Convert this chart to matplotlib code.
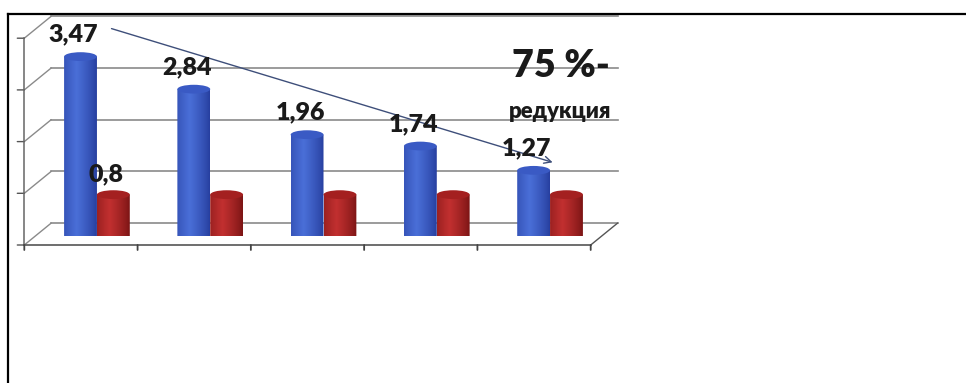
import numpy as np
import matplotlib
matplotlib.use("Agg")
import matplotlib.pyplot as plt
from matplotlib.lines import Line2D
from matplotlib.patches import ConnectionPatch, Ellipse, PathPatch
from matplotlib.path import Path
from matplotlib.transforms import offset_copy

plt.rcParams["font.family"] = ["Lato", "DejaVu Sans"]

categories = [0, 1, 2, 3, 4]
blue_values = [3.47, 2.84, 1.96, 1.74, 1.27]
red_values = [0.8, 0.8, 0.8, 0.8, 0.8]
blue_labels = ["3,47", "2,84", "1,96", "1,74", "1,27"]
red_labels = ["0,8", "", "", "", ""]
y_ticks = [0, 1, 2, 3, 4]

BAR_W = 0.29
CAP = 0.17
GRID = "#8a8a8a"

fig = plt.figure(figsize=(9.66, 3.83), dpi=100)
fig.patch.set_facecolor("white")

# page frame: top and left rules
fig.add_artist(Line2D([8 / 966, 1.0], [1 - 14 / 383, 1 - 14 / 383], color="black", lw=1.6))
fig.add_artist(Line2D([8 / 966, 8 / 966], [0, 1 - 14 / 383], color="black", lw=1.6))

ax = fig.add_axes([40.3 / 966, (383 - 236) / 383, 566.4 / 966, 206.8 / 383])
ax.set_axis_off()

# depth planes of the pseudo-3D box
back = offset_copy(ax.transData, fig=fig, x=11, y=13, units="dots")
front = offset_copy(ax.transData, fig=fig, x=-16, y=-9, units="dots")
front_tick_x = offset_copy(front, fig=fig, x=-7, y=0, units="dots")
front_tick_y = offset_copy(front, fig=fig, x=0, y=-5, units="dots")

x_lo, x_hi = categories[0] - 0.5, categories[-1] + 0.5

for v in y_ticks:
    ax.plot([x_lo, x_hi], [v, v], transform=back, color=GRID, lw=1.2,
            clip_on=False, zorder=1)
    ax.add_artist(ConnectionPatch((x_lo, v), (x_lo, v), coordsA=front, coordsB=back,
                                  color=GRID, lw=1.0, zorder=1))
    ax.add_artist(ConnectionPatch((x_lo, v), (x_lo, v), coordsA=front, coordsB=front_tick_x,
                                  color="#555555", lw=1.0, zorder=1))

ax.plot([x_lo, x_lo], [y_ticks[0], y_ticks[-1]], transform=front, color="#666666",
        lw=1.1, clip_on=False, zorder=1)
ax.plot([x_lo, x_hi], [0, 0], transform=front, color="#555555", lw=1.2,
        clip_on=False, zorder=1)
ax.add_artist(ConnectionPatch((x_hi, 0), (x_hi, 0), coordsA=front, coordsB=back,
                              color="#555555", lw=1.0, zorder=1))
for xb in np.arange(x_lo, x_hi + 0.01, 1.0):
    ax.add_artist(ConnectionPatch((xb, 0), (xb, 0), coordsA=front, coordsB=front_tick_y,
                                  color="#444444", lw=1.3, zorder=1))


def shade(c_dark, c_light, n=64):
    t = np.linspace(0, 1, n)
    k = np.clip(1 - np.abs(t - 0.38) / 0.62, 0, 1) ** 0.8
    d = np.array(matplotlib.colors.to_rgb(c_dark))
    l = np.array(matplotlib.colors.to_rgb(c_light))
    return (d[None, :] * (1 - k[:, None]) + l[None, :] * k[:, None])[None, :, :]


def cylinder(xc, h, dark, light, cap):
    x0, x1 = xc - BAR_W / 2, xc + BAR_W / 2
    t = np.linspace(np.pi, 2 * np.pi, 40)
    verts = [(x0, h)] + list(zip(xc + BAR_W / 2 * np.cos(t), CAP / 2 * np.sin(t))) + [(x1, h), (x0, h)]
    body = PathPatch(Path(verts, closed=True), facecolor="none", edgecolor="none")
    ax.add_patch(body)
    im = ax.imshow(shade(dark, light), extent=[x0, x1, -CAP / 2, h], aspect="auto",
                   interpolation="bicubic", zorder=3)
    im.set_clip_path(body)
    ax.add_patch(Ellipse((xc, h), BAR_W, CAP, facecolor=cap, edgecolor="none",
                         zorder=4))


for i, c in enumerate(categories):
    cylinder(c - BAR_W / 2, blue_values[i], "#263e9e", "#4a6fd8", "#3a5ac4")
    cylinder(c + BAR_W / 2, red_values[i], "#7a1414", "#c23030", "#a42020")

for i, c in enumerate(categories):
    ax.annotate(blue_labels[i], xy=(c - BAR_W / 2, blue_values[i]), xytext=(-7, 22),
                textcoords="offset pixels", ha="center", va="center",
                fontsize=18, fontweight="heavy", color="#1a1a1a", zorder=6)
    if red_labels[i]:
        ax.annotate(red_labels[i], xy=(c + BAR_W / 2, red_values[i]), xytext=(-7, 20),
                    textcoords="offset pixels", ha="center", va="center",
                    fontsize=18, fontweight="heavy", color="#1a1a1a", zorder=6)

# trend arrow from the first blue value down to the last
ax.annotate("", xy=(categories[-1] - BAR_W / 2, blue_values[-1]),
            xytext=(categories[0] - BAR_W / 2, blue_values[0]),
            xycoords=offset_copy(ax.transData, fig=fig, x=19, y=8, units="dots"),
            textcoords=offset_copy(ax.transData, fig=fig, x=31, y=28, units="dots"),
            arrowprops=dict(arrowstyle="->,head_length=0.5,head_width=0.25",
                            color="#3e4f7a", lw=1.0, shrinkA=0, shrinkB=0),
            zorder=5)

ax.text(0.919, 0.822, "75 %-", transform=ax.transAxes, ha="center", va="center",
        fontsize=27, fontweight="heavy", color="#1a1a1a", zorder=6)
ax.text(0.918, 0.60, "редукция", transform=ax.transAxes, ha="center", va="center",
        fontsize=16, fontweight="heavy", color="#1a1a1a", zorder=6)

ax.set_xlim(x_lo, x_hi)
ax.set_ylim(0, 4)

fig.savefig("out.png", dpi=100)
